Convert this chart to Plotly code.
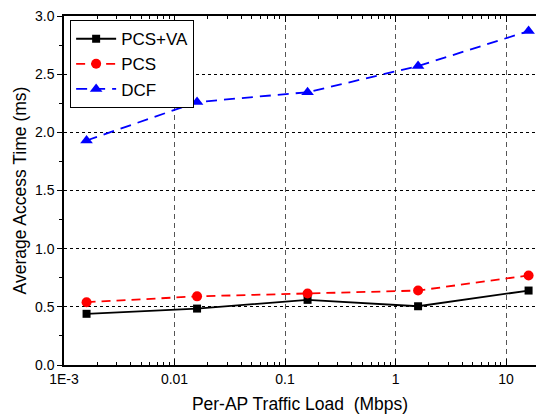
import plotly.graph_objects as go

load = [0.0016, 0.016, 0.16, 1.6, 16]
pcs_va = [0.44, 0.485, 0.56, 0.505, 0.64]
pcs = [0.54, 0.59, 0.615, 0.64, 0.77]
dcf = [1.93, 2.26, 2.345, 2.57, 2.87]
x_tickvals = [0.001, 0.01, 0.1, 1, 10]
x_ticktext = ["1E-3", "0.01", "0.1", "1", "10"]
y_tickvals = [0.0, 0.5, 1.0, 1.5, 2.0, 2.5, 3.0]

fig = go.Figure()
fig.add_trace(go.Scatter(x=load, y=pcs_va, name="PCS+VA", mode="lines+markers",
                         line=dict(color="black", width=1.8),
                         marker=dict(symbol="square", size=8, color="black")))
fig.add_trace(go.Scatter(x=load, y=pcs, name="PCS", mode="lines+markers",
                         line=dict(color="red", width=1.8, dash="9px,6px"),
                         marker=dict(symbol="circle", size=10, color="red")))
fig.add_trace(go.Scatter(x=load, y=dcf, name="DCF", mode="lines+markers",
                         line=dict(color="blue", width=1.8, dash="11px,7px"),
                         marker=dict(symbol="triangle-up", size=11, color="blue")))

upper = 1 + 30 / 110.6
fig.update_layout(
    width=536, height=419,
    margin=dict(l=64, r=0, t=16, b=54),
    plot_bgcolor="white", paper_bgcolor="white",
    font=dict(family="Liberation Sans, Arial", size=14, color="black"),
    showlegend=True,
    legend=dict(x=0.013, y=0.988, xanchor="left", yanchor="top",
                bordercolor="black", borderwidth=1, bgcolor="white",
                font=dict(size=17), tracegroupgap=0, itemwidth=40),
    xaxis=dict(type="log", range=[-3, upper],
               tickvals=x_tickvals, ticktext=x_ticktext,
               showline=True, linecolor="black", linewidth=1.5, mirror="ticks",
               ticks="inside", ticklen=6, tickcolor="black",
               showgrid=True, gridcolor="#555555", griddash="5px,4px", gridwidth=1,
               minor=dict(ticks="inside", ticklen=3, tickcolor="black", dtick="D1", showgrid=False),
               zeroline=False,
               title=dict(text="Per-AP Traffic Load  (Mbps)", font=dict(size=17.5), standoff=12),
               tickfont=dict(size=14)),
    yaxis=dict(range=[0, 3.0], tickvals=y_tickvals,
               tickformat=".1f",
               showline=True, linecolor="black", linewidth=1.5, mirror=False,
               ticks="outside", ticklen=5, tickcolor="black",
               showgrid=True, gridcolor="black", griddash="3px,3px", gridwidth=1,
               minor=dict(ticks="outside", ticklen=3, tickcolor="black", dtick=0.25, showgrid=False),
               zeroline=False,
               title=dict(text="Average Access Time (ms)", font=dict(size=17.5), standoff=4),
               tickfont=dict(size=14)),
)
fig.write_html("out.html")
